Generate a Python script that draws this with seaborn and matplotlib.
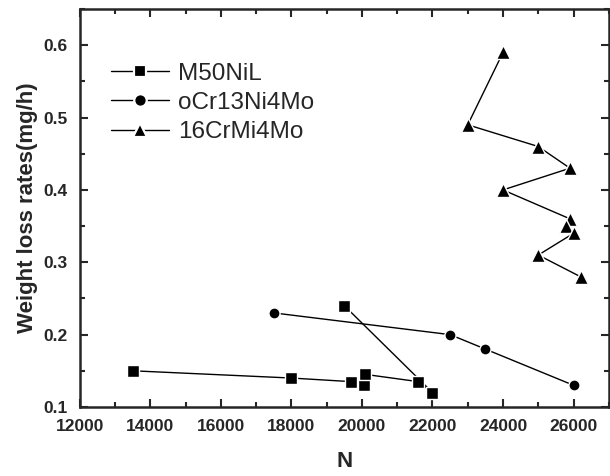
import pandas as pd
import numpy as np
import matplotlib
matplotlib.use('Agg')
import matplotlib.pyplot as plt
from matplotlib.ticker import MultipleLocator
import seaborn as sns

# data (order = drawing order of the lines)
m50_n = [13500, 18000, 19700, 20050, 20100, 21600, 22000, 19500]
m50_w = [0.150, 0.140, 0.135, 0.130, 0.145, 0.135, 0.120, 0.240]

cr13_n = [17500, 22500, 23500, 26000]
cr13_w = [0.230, 0.200, 0.180, 0.130]

cr16_n = [24000, 23000, 25000, 25900, 24000, 25900, 25800, 26000, 25000, 26200]
cr16_w = [0.590, 0.490, 0.460, 0.430, 0.400, 0.360, 0.350, 0.340, 0.310, 0.280]

labels = ['M50NiL', 'oCr13Ni4Mo', '16CrMi4Mo']

df = pd.concat([
    pd.DataFrame({'N': m50_n, 'W': m50_w, 'steel': labels[0]}),
    pd.DataFrame({'N': cr13_n, 'W': cr13_w, 'steel': labels[1]}),
    pd.DataFrame({'N': cr16_n, 'W': cr16_w, 'steel': labels[2]}),
], ignore_index=True)

sns.set_style('ticks')
plt.rcParams['font.family'] = ['Liberation Sans', 'DejaVu Sans']
narrow = ['Liberation Sans Narrow', 'Liberation Sans', 'DejaVu Sans']

fig = plt.figure(figsize=(6.1, 4.76), dpi=100)
ax = fig.add_axes([0.131, 0.145, 0.867, 0.836])

sns.lineplot(
    data=df, x='N', y='W', hue='steel', style='steel',
    sort=False, estimator=None, dashes=False,
    markers={labels[0]: 's', labels[1]: 'o', labels[2]: '^'},
    palette={l: 'black' for l in labels},
    markersize=8, markeredgecolor='white', markeredgewidth=1.0,
    linewidth=1.0, ax=ax,
)

# triangles look small next to squares, bump them up a bit
for ln in ax.lines:
    if ln.get_marker() == '^':
        ln.set_markersize(10)

ax.set_xlim(12000, 27000)
ax.set_ylim(0.1, 0.65)
ax.xaxis.set_major_locator(MultipleLocator(2000))
ax.xaxis.set_minor_locator(MultipleLocator(1000))
ax.set_yticks(np.arange(0.1, 0.61, 0.1))
ax.yaxis.set_minor_locator(MultipleLocator(0.05))

ax.tick_params(which='both', direction='in', top=True, right=True, width=1.5)
ax.tick_params(which='major', length=6)
ax.tick_params(which='minor', length=3.5)
ax.tick_params(axis='x', pad=9)
ax.tick_params(axis='y', pad=9)
for lab in ax.get_xticklabels() + ax.get_yticklabels():
    lab.set_fontweight('bold')
    lab.set_fontsize(12.5)
    lab.set_family(narrow)
for s in ax.spines.values():
    s.set_linewidth(1.8)

ax.set_xlabel('N', fontsize=16, fontweight='bold', labelpad=12)
ax.set_ylabel('Weight loss rates(mg/h)', fontsize=16, fontweight='bold', labelpad=4)

leg = ax.legend(loc='upper left', bbox_to_anchor=(0.04, 0.89), frameon=False,
                fontsize=17.5, handlelength=2.4, handletextpad=0.35,
                labelspacing=0.3, borderaxespad=0)
for h in leg.legend_handles:
    h.set_markersize(10.5 if h.get_marker() == '^' else 9)
    h.set_markeredgecolor('white')
    h.set_markeredgewidth(1.6)

fig.savefig('out.png', dpi=100)
